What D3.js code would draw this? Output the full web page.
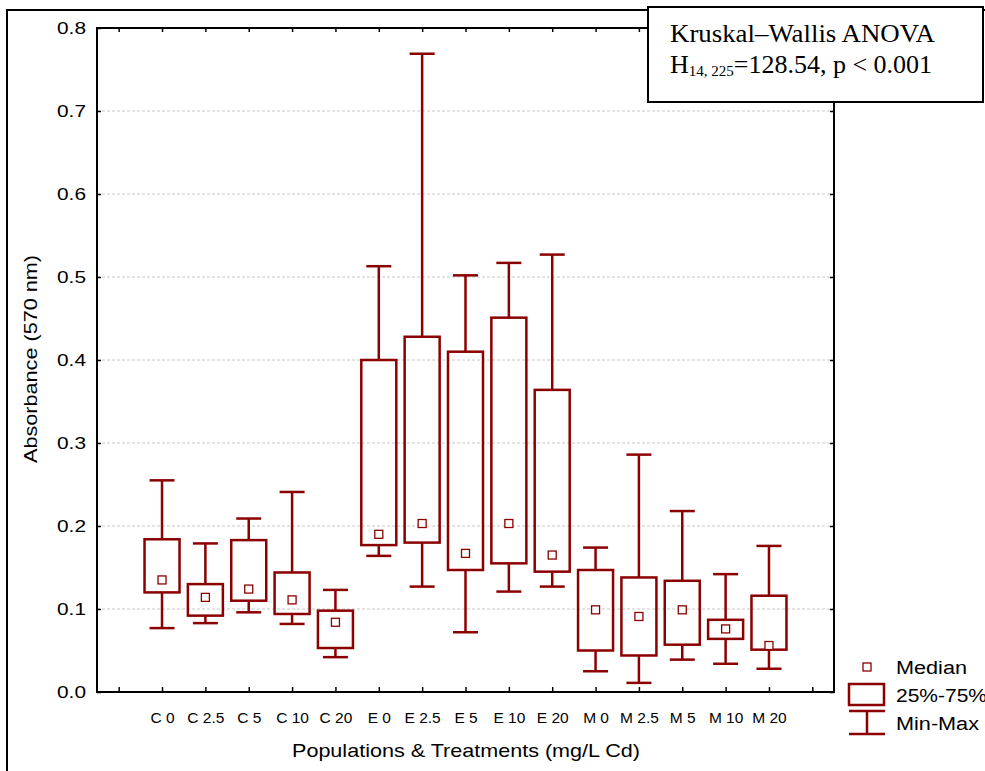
<!DOCTYPE html>
<html>
<head>
<meta charset="utf-8">
<script src="https://cdn.jsdelivr.net/npm/d3@7"></script>
<style>
  html, body { margin: 0; padding: 0; background: #fff; }
  svg { display: block; }
</style>
</head>
<body>
<svg id="chart" width="985" height="771"></svg>
<script>
// Absorbance per population & Cd treatment: min, quartiles, median, max
const categories = ["C 0", "C 2.5", "C 5", "C 10", "C 20",
                    "E 0", "E 2.5", "E 5", "E 10", "E 20",
                    "M 0", "M 2.5", "M 5", "M 10", "M 20"];
const minValues    = [0.077, 0.083, 0.096, 0.082, 0.042, 0.164, 0.127, 0.072, 0.121, 0.127, 0.025, 0.011, 0.039, 0.034, 0.028];
const q1Values     = [0.120, 0.092, 0.110, 0.094, 0.053, 0.177, 0.180, 0.147, 0.155, 0.145, 0.050, 0.044, 0.057, 0.064, 0.051];
const medianValues = [0.135, 0.114, 0.124, 0.111, 0.084, 0.190, 0.203, 0.167, 0.203, 0.165, 0.099, 0.091, 0.099, 0.076, 0.056];
const q3Values     = [0.184, 0.130, 0.183, 0.144, 0.098, 0.400, 0.428, 0.410, 0.451, 0.364, 0.147, 0.138, 0.134, 0.087, 0.116];
const maxValues    = [0.255, 0.179, 0.209, 0.241, 0.123, 0.513, 0.769, 0.502, 0.517, 0.527, 0.174, 0.286, 0.218, 0.142, 0.176];
const yTicks = [0.0, 0.1, 0.2, 0.3, 0.4, 0.5, 0.6, 0.7, 0.8];

const data = categories.map((c, i) => ({
  cat: c, pos: i + 1,
  min: minValues[i], q1: q1Values[i], med: medianValues[i], q3: q3Values[i], max: maxValues[i]
}));

const svg = d3.select("#chart");
const red = "#8b0000";
const sans = "'Liberation Sans', Arial, sans-serif";
const serif = "'Liberation Serif', 'Times New Roman', serif";

const plot = { left: 97, right: 834, top: 28, bottom: 692 };

const x = d3.scaleLinear().domain([-0.5, 16.5]).range([plot.left, plot.right]);
const y = d3.scaleLinear().domain([0, 0.8]).range([plot.bottom, plot.top]);

// Outer frame
svg.append("rect")
  .attr("x", 7).attr("y", 10).attr("width", 1100).attr("height", 900)
  .attr("fill", "none").attr("stroke", "#000").attr("stroke-width", 2);

// Dashed grid lines
svg.append("g")
  .selectAll("line")
  .data(yTicks.filter(t => t > 0 && t < 0.8))
  .join("line")
  .attr("x1", plot.left).attr("x2", plot.right)
  .attr("y1", d => y(d)).attr("y2", d => y(d))
  .attr("stroke", "#c8c8c8").attr("stroke-width", 1)
  .attr("stroke-dasharray", "3,2");

// Axes with inward ticks
const tickPositions = d3.range(0, 17);
const labelFor = i => (i >= 1 && i <= categories.length) ? categories[i - 1] : "";

const leftAxis = svg.append("g")
  .attr("transform", `translate(${plot.left},0)`)
  .call(d3.axisLeft(y).tickValues(yTicks).tickFormat(d3.format(".1f")).tickSize(-4).tickPadding(11));
leftAxis.select(".domain").remove();
leftAxis.selectAll("line").attr("stroke", "#000").attr("stroke-width", 1.5);
leftAxis.selectAll("text")
  .attr("font-family", sans).attr("font-size", 17).attr("fill", "#000")
  .attr("textLength", 29).attr("lengthAdjust", "spacingAndGlyphs");

const rightAxis = svg.append("g")
  .attr("transform", `translate(${plot.right},0)`)
  .call(d3.axisRight(y).tickValues(yTicks).tickFormat("").tickSize(-4));
rightAxis.select(".domain").remove();
rightAxis.selectAll("line").attr("stroke", "#000").attr("stroke-width", 1.5);

const bottomAxis = svg.append("g")
  .attr("transform", `translate(0,${plot.bottom})`)
  .call(d3.axisBottom(x).tickValues(tickPositions).tickFormat(labelFor).tickSize(-5).tickPadding(20));
bottomAxis.select(".domain").remove();
bottomAxis.selectAll("line").attr("stroke", "#000").attr("stroke-width", 1.5);
bottomAxis.selectAll("text")
  .attr("font-family", sans).attr("font-size", 15.5).attr("fill", "#000");

const topAxis = svg.append("g")
  .attr("transform", `translate(0,${plot.top})`)
  .call(d3.axisTop(x).tickValues(tickPositions).tickFormat("").tickSize(-4));
topAxis.select(".domain").remove();
topAxis.selectAll("line").attr("stroke", "#000").attr("stroke-width", 1.5);

// Plot frame
svg.append("rect")
  .attr("x", plot.left).attr("y", plot.top)
  .attr("width", plot.right - plot.left).attr("height", plot.bottom - plot.top)
  .attr("fill", "none").attr("stroke", "#000").attr("stroke-width", 2);

// Box-and-whisker marks
const boxW = 35, capW = 25, medS = 8;
const g = svg.append("g").selectAll("g").data(data).join("g");

g.append("line")
  .attr("x1", d => x(d.pos)).attr("x2", d => x(d.pos))
  .attr("y1", d => y(d.max)).attr("y2", d => y(d.q3))
  .attr("stroke", red).attr("stroke-width", 2.5);
g.append("line")
  .attr("x1", d => x(d.pos)).attr("x2", d => x(d.pos))
  .attr("y1", d => y(d.q1)).attr("y2", d => y(d.min))
  .attr("stroke", red).attr("stroke-width", 2.5);
g.append("line")
  .attr("x1", d => x(d.pos) - capW / 2).attr("x2", d => x(d.pos) + capW / 2)
  .attr("y1", d => y(d.max)).attr("y2", d => y(d.max))
  .attr("stroke", red).attr("stroke-width", 2.5);
g.append("line")
  .attr("x1", d => x(d.pos) - capW / 2).attr("x2", d => x(d.pos) + capW / 2)
  .attr("y1", d => y(d.min)).attr("y2", d => y(d.min))
  .attr("stroke", red).attr("stroke-width", 2.5);
g.append("rect")
  .attr("x", d => x(d.pos) - boxW / 2).attr("width", boxW)
  .attr("y", d => y(d.q3)).attr("height", d => y(d.q1) - y(d.q3))
  .attr("fill", "none").attr("stroke", red).attr("stroke-width", 2.5);
g.append("rect")
  .attr("x", d => x(d.pos) - medS / 2).attr("width", medS)
  .attr("y", d => y(d.med) - medS / 2).attr("height", medS)
  .attr("fill", "#fff").attr("stroke", red).attr("stroke-width", 1.3);

// Axis titles
svg.append("text")
  .attr("x", 466).attr("y", 757)
  .attr("text-anchor", "middle")
  .attr("font-family", sans).attr("font-size", 19)
  .attr("textLength", 348).attr("lengthAdjust", "spacingAndGlyphs")
  .text("Populations & Treatments (mg/L Cd)");

svg.append("text")
  .attr("transform", "translate(37,359) rotate(-90)")
  .attr("text-anchor", "middle")
  .attr("font-family", sans).attr("font-size", 18)
  .attr("textLength", 208).attr("lengthAdjust", "spacingAndGlyphs")
  .text("Absorbance (570 nm)");

// Statistics annotation box
svg.append("rect")
  .attr("x", 648).attr("y", 7).attr("width", 335).attr("height", 95)
  .attr("fill", "#fff").attr("stroke", "#000").attr("stroke-width", 2);
svg.append("text")
  .attr("x", 670).attr("y", 42)
  .attr("font-family", serif).attr("font-size", 26)
  .attr("textLength", 265).attr("lengthAdjust", "spacingAndGlyphs")
  .text("Kruskal–Wallis ANOVA");
const stat = svg.append("text")
  .attr("x", 670).attr("y", 73)
  .attr("font-family", serif).attr("font-size", 26);
stat.append("tspan").text("H");
stat.append("tspan").attr("font-size", 15).attr("dy", 3).text("14, 225");
stat.append("tspan").attr("dy", -3).text("=128.54, p < 0.001");

// Legend
const lg = svg.append("g");
lg.append("rect")
  .attr("x", 863).attr("y", 663).attr("width", 8).attr("height", 8)
  .attr("fill", "#fff").attr("stroke", red).attr("stroke-width", 1.3);
lg.append("rect")
  .attr("x", 849).attr("y", 684).attr("width", 35).attr("height", 21)
  .attr("fill", "none").attr("stroke", red).attr("stroke-width", 2.5);
lg.append("line").attr("x1", 849).attr("x2", 885).attr("y1", 711).attr("y2", 711)
  .attr("stroke", red).attr("stroke-width", 2.5);
lg.append("line").attr("x1", 849).attr("x2", 885).attr("y1", 734).attr("y2", 734)
  .attr("stroke", red).attr("stroke-width", 2.5);
lg.append("line").attr("x1", 867).attr("x2", 867).attr("y1", 711).attr("y2", 734)
  .attr("stroke", red).attr("stroke-width", 2.5);
const legendText = [["Median", 674, 71], ["25%-75%", 702, 91], ["Min-Max", 730, 83]];
lg.selectAll("text.lt").data(legendText).join("text")
  .attr("class", "lt")
  .attr("x", 896).attr("y", d => d[1])
  .attr("font-family", sans).attr("font-size", 18)
  .attr("textLength", d => d[2]).attr("lengthAdjust", "spacingAndGlyphs")
  .text(d => d[0]);
</script>
</body>
</html>
